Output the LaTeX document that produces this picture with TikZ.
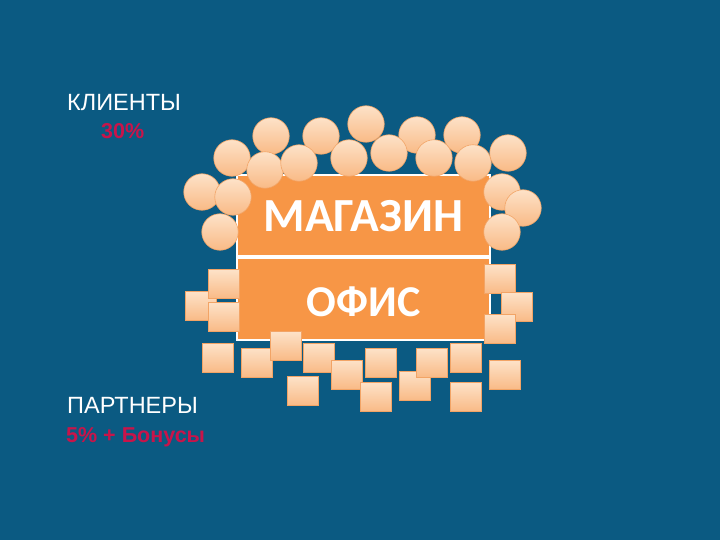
\documentclass[tikz,border=0pt]{standalone}
\usepackage{fontspec}
\setmainfont{Liberation Sans}
\newfontfamily\signfont{Carlito}
\definecolor{deepsea}{HTML}{0B5A82}
\definecolor{shoporange}{HTML}{F79646}
\definecolor{peachlight}{HTML}{FDE2C8}
\definecolor{peachdark}{HTML}{F9BA86}
\definecolor{peachedge}{HTML}{F2A466}
\definecolor{promored}{HTML}{C8144A}

\begin{document}
\begin{tikzpicture}[x=1pt, y=-1pt,
    ball/.style={circle, minimum size=36.5pt, inner sep=0pt, top color=peachlight, bottom color=peachdark, draw=peachedge, line width=0.6pt},
    tile/.style={rectangle, minimum width=31pt, minimum height=29pt, inner sep=0pt, top color=peachlight, bottom color=peachdark, draw=peachedge, line width=0.6pt},
    panel/.style={rectangle, draw=white, line width=2pt, fill=shoporange, minimum width=253pt, inner sep=0pt, text=white, text depth=0pt},
    note/.style={anchor=base west, inner sep=0pt, text=white, font=\fontsize{23.5}{27}\selectfont},
    promo/.style={text=promored, font=\bfseries\fontsize{21.5}{25}\selectfont}]

      % Background
      \fill[deepsea] (0,0) rectangle (720,540);

      % Shop and office boxes
      \node[panel, minimum height=81pt, text height=32.6pt, font=\signfont\bfseries\fontsize{47.5}{52}\selectfont] (shop) at (363.5,215.5) {МАГАЗИН};
      \node[panel, minimum height=82pt, text height=34.4pt, font=\signfont\bfseries\fontsize{44}{48}\selectfont] (office) at (363.5,299) {ОФИС};

      % Clients round the shop
      \foreach \x/\y [count=\i] in {271/136, 321/136, 366/124, 417/135, 462/135,
          232/158, 265/170, 299/163, 349/158, 389/153, 434/158, 473/163, 508/153,
          202/192, 233/197, 220/232, 502/192, 523/208, 502/232}
        \node[ball] (client\i) at (\x,\y) {};

      % Partners round the office
      \foreach \x/\y [count=\i] in {201/306, 224/284, 224/317, 218/358, 257/362.5,
          286/346, 302.5/391, 319/358, 347/374.5, 376/397, 381/363, 415/386,
          432/363, 466/358, 466/397, 505/375, 499.5/279, 516.5/307, 499.5/329}
        \node[tile] (partner\i) at (\x,\y) {};

      % Legend
      \node[note] (clients) at (67,111) {КЛИЕНТЫ};
      \node[note, promo] (clientshare) at (101,139) {30\%};
      \node[note] (partners) at (67,413) {ПАРТНЕРЫ};
      \node[note, promo] (partnershare) at (66,442) {5\% + Бонусы};
\end{tikzpicture}
\end{document}
